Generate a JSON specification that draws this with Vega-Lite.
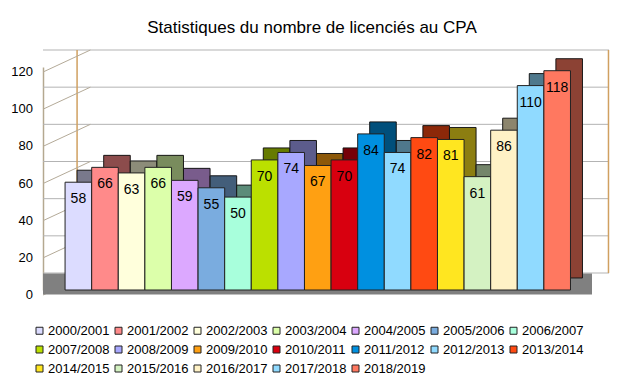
{
  "$schema": "https://vega.github.io/schema/vega-lite/v6.json",
  "width": 532,
  "height": 223,
  "autosize": "none",
  "padding": {"left": 43, "top": 67, "right": 50, "bottom": 89},
  "background": "white",
  "title": {"text": "Statistiques du nombre de licenciés au CPA", "fontSize": 17, "font": "Liberation Sans", "fontWeight": "normal", "color": "#000000", "anchor": "middle", "offset": -1, "baseline": "alphabetic", "dx": 3},
  "config": {"view": {"stroke": null}, "font": "Liberation Sans"},
  "data": {"values": [
    {"season": "2000/2001", "n": 58},
    {"season": "2001/2002", "n": 66},
    {"season": "2002/2003", "n": 63},
    {"season": "2003/2004", "n": 66},
    {"season": "2004/2005", "n": 59},
    {"season": "2005/2006", "n": 55},
    {"season": "2006/2007", "n": 50},
    {"season": "2007/2008", "n": 70},
    {"season": "2008/2009", "n": 74},
    {"season": "2009/2010", "n": 67},
    {"season": "2010/2011", "n": 70},
    {"season": "2011/2012", "n": 84},
    {"season": "2012/2013", "n": 74},
    {"season": "2013/2014", "n": 82},
    {"season": "2014/2015", "n": 81},
    {"season": "2015/2016", "n": 61},
    {"season": "2016/2017", "n": 86},
    {"season": "2017/2018", "n": 110},
    {"season": "2018/2019", "n": 118}
  ]},
  "layer": [
    {
      "data": {"values": [{"v": 0}, {"v": 20}, {"v": 40}, {"v": 60}, {"v": 80}, {"v": 100}, {"v": 120}]},
      "mark": {"type": "rule", "color": "#b3b3b3", "strokeWidth": 1, "xOffset": 34, "x2Offset": 34, "yOffset": -17},
      "encoding": {
        "y": {"field": "v", "type": "quantitative", "scale": {"domain": [0, 120], "nice": false}, "axis": {"values": [0, 20, 40, 60, 80, 100, 120], "grid": false, "ticks": false, "labels": false, "domainColor": "#b4a890", "domainWidth": 1.5, "title": null}}
      }
    },
    {
      "data": {"values": [{"season": "2000/2001", "lo": 0, "hi": 120}]},
      "mark": {"type": "rule", "color": "#d0a060", "strokeWidth": 1.5, "xOffset": 12, "yOffset": -17, "y2Offset": -17},
      "encoding": {
        "x": {"field": "season", "type": "nominal", "sort": null, "bandPosition": 0, "axis": null, "scale": {"domain": ["2000/2001", "2001/2002", "2002/2003", "2003/2004", "2004/2005", "2005/2006", "2006/2007", "2007/2008", "2008/2009", "2009/2010", "2010/2011", "2011/2012", "2012/2013", "2013/2014", "2014/2015", "2015/2016", "2016/2017", "2017/2018", "2018/2019"], "paddingInner": 0, "paddingOuter": 0.5, "align": 0.83}},
        "y": {"field": "lo", "type": "quantitative"},
        "y2": {"field": "hi"}
      }
    },
    {
      "data": {"values": [{"season": "2000/2001", "v": 0}, {"season": "2000/2001", "v": 20}, {"season": "2000/2001", "v": 40}, {"season": "2000/2001", "v": 60}, {"season": "2000/2001", "v": 80}, {"season": "2000/2001", "v": 100}, {"season": "2000/2001", "v": 120}]},
      "mark": {"type": "rule", "color": "#b4aa98", "strokeWidth": 1, "xOffset": -22, "x2Offset": 12, "yOffset": 5, "y2Offset": -17},
      "encoding": {
        "x": {"field": "season", "type": "nominal", "sort": null, "bandPosition": 0},
        "x2": {"field": "season"},
        "y": {"field": "v", "type": "quantitative"},
        "y2": {"field": "v"}
      }
    },
    {
      "data": {"values": [{"season": "2000/2001", "v": 0}, {"season": "2000/2001", "v": 20}, {"season": "2000/2001", "v": 40}, {"season": "2000/2001", "v": 60}, {"season": "2000/2001", "v": 80}, {"season": "2000/2001", "v": 100}, {"season": "2000/2001", "v": 120}]},
      "mark": {"type": "text", "align": "right", "baseline": "middle", "xOffset": -32, "yOffset": 5, "fontSize": 13, "font": "Liberation Sans", "color": "#000000"},
      "encoding": {
        "x": {"field": "season", "type": "nominal", "sort": null, "bandPosition": 0},
        "y": {"field": "v", "type": "quantitative"},
        "text": {"field": "v", "type": "quantitative"}
      }
    },
    {
      "data": {"values": [{"season": "2018/2019", "lo": 0, "hi": 120}]},
      "mark": {"type": "rule", "color": "#d0a060", "strokeWidth": 1.5, "xOffset": 38, "yOffset": -17, "y2Offset": -17},
      "encoding": {
        "x": {"field": "season", "type": "nominal", "sort": null, "bandPosition": 1},
        "y": {"field": "lo", "type": "quantitative"},
        "y2": {"field": "hi"}
      }
    },
    {
      "data": {"values": [{"v": 0}]},
      "mark": {"type": "rule", "color": "#808080", "strokeWidth": 21, "xOffset": 17, "x2Offset": 17, "yOffset": -6},
      "encoding": {
        "y": {"field": "v", "type": "quantitative"}
      }
    },
    {
      "mark": {"type": "bar", "stroke": "#222222", "strokeWidth": 1, "xOffset": 12, "yOffset": -12, "y2Offset": -12},
      "encoding": {
        "x": {"field": "season", "type": "nominal", "sort": null},
        "y": {"field": "n", "type": "quantitative"},
        "color": {
          "field": "season", "type": "nominal", "sort": null,
          "scale": {
            "domain": ["2000/2001", "2001/2002", "2002/2003", "2003/2004", "2004/2005", "2005/2006", "2006/2007", "2007/2008", "2008/2009", "2009/2010", "2010/2011", "2011/2012", "2012/2013", "2013/2014", "2014/2015", "2015/2016", "2016/2017", "2017/2018", "2018/2019"],
            "range": ["#dcdcff", "#ff8a8a", "#ffffdc", "#dcffaa", "#dca8ff", "#7aacdf", "#a8ffdc", "#bbe000", "#a8a8ff", "#ffa012", "#d8000f", "#0090e0", "#90daff", "#ff4a12", "#ffe620", "#d4f2c2", "#fff2c6", "#90daff", "#ff7860"]
          },
          "legend": {"title": null, "orient": "none", "legendX": -10, "legendY": 257, "direction": "horizontal", "columns": 7, "columnPadding": 2, "rowPadding": 5, "symbolType": "square", "symbolSize": 49, "symbolStrokeColor": "#333333", "symbolStrokeWidth": 1, "labelFontSize": 13, "labelFont": "Liberation Sans", "labelColor": "#000000", "labelOffset": 2, "symbolOpacity": 1}
        }
      }
    },
    {
      "mark": {"type": "bar", "color": "#000000", "opacity": 0.45, "xOffset": 12, "yOffset": -12, "y2Offset": -12},
      "encoding": {
        "x": {"field": "season", "type": "nominal", "sort": null},
        "y": {"field": "n", "type": "quantitative"}
      }
    },
    {
      "mark": {"type": "bar", "stroke": "#222222", "strokeWidth": 1},
      "encoding": {
        "x": {"field": "season", "type": "nominal", "sort": null},
        "y": {"field": "n", "type": "quantitative"},
        "color": {"field": "season", "type": "nominal", "sort": null}
      }
    },
    {
      "mark": {"type": "text", "baseline": "middle", "dy": 17, "fontSize": 14, "font": "Liberation Sans", "color": "#000000"},
      "encoding": {
        "x": {"field": "season", "type": "nominal", "sort": null},
        "y": {"field": "n", "type": "quantitative"},
        "text": {"field": "n", "type": "quantitative"}
      }
    }
  ]
}
